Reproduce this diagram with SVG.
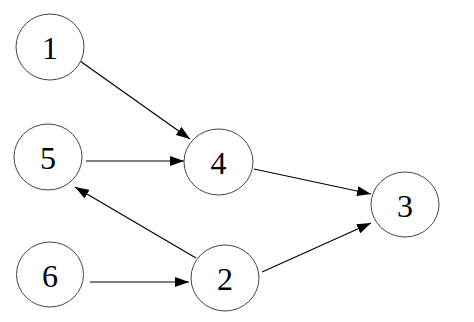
<svg xmlns="http://www.w3.org/2000/svg" width="474" height="322" viewBox="0 0 474 322">
<style>
.n ellipse{fill:#fff;stroke:#444;stroke-width:1}
.n text{font-family:"Liberation Serif","DejaVu Serif",serif;font-size:32px;fill:#000;text-anchor:middle;dominant-baseline:central}
.e line{stroke:#000;stroke-width:1.2;marker-end:url(#ah)}
</style>
<defs>
<marker id="ah" viewBox="0 0 14 10" refX="14" refY="5" markerWidth="14" markerHeight="10" markerUnits="userSpaceOnUse" orient="auto">
<path d="M0,0 L14,5 L0,10 Z" fill="#000"/>
</marker>
</defs>
<g id="edges" class="e">
<line x1="80" y1="61" x2="190" y2="139"/>
<line x1="86" y1="161" x2="184" y2="161"/>
<line x1="254" y1="169" x2="371" y2="194"/>
<line x1="262" y1="272" x2="371" y2="223"/>
<line x1="196" y1="258" x2="75" y2="187"/>
<line x1="90" y1="282" x2="189" y2="282"/>
</g>
<g id="node1" class="n"><ellipse cx="50" cy="47" rx="34" ry="33"/><text x="50" y="48">1</text></g>
<g id="node5" class="n"><ellipse cx="48" cy="157" rx="34" ry="33"/><text x="48" y="158">5</text></g>
<g id="node4" class="n"><ellipse cx="218.5" cy="162" rx="34.5" ry="33"/><text x="218.5" y="163">4</text></g>
<g id="node3" class="n"><ellipse cx="405" cy="204.5" rx="34" ry="32.5"/><text x="405" y="205.5">3</text></g>
<g id="node2" class="n"><ellipse cx="225" cy="278" rx="34" ry="33"/><text x="225" y="279">2</text></g>
<g id="node6" class="n"><ellipse cx="50" cy="274.5" rx="33.5" ry="32.5"/><text x="50" y="275.5">6</text></g>
</svg>
